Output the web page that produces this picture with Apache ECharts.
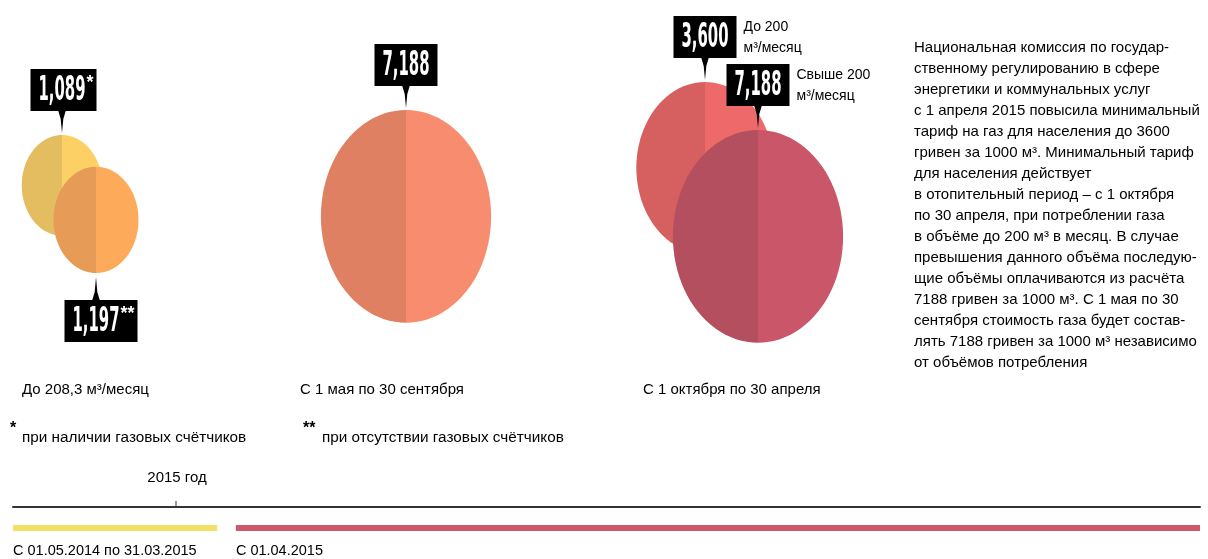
<!DOCTYPE html>
<html>
<head>
<meta charset="utf-8">
<script src="https://cdn.jsdelivr.net/npm/echarts@6/dist/echarts.min.js"></script>
<style>
  html, body { margin: 0; padding: 0; background: #fff; }
  #chart { width: 1208px; height: 559px; }
</style>
</head>
<body>
<div id="chart"></div>
<script>
// ---------------- data ----------------
const groupLabels = ['До 208,3 м³/месяц', 'С 1 мая по 30 сентября', 'С 1 октября по 30 апреля'];
const bubbleGroup = [0, 0, 1, 2, 2];
const bubbleValues = [1089, 1197, 7188, 3600, 7188];
const bubbleMarks = ['*', '**', '', '', ''];
const bubbleNotes = ['', '', '', 'До 200\nм³/месяц', 'Свыше 200\nм³/месяц'];
const footnoteMarks = ['*', '**'];
const footnoteTexts = ['при наличии газовых счётчиков', 'при отсутствии газовых счётчиков'];
const periodLabels = ['С 01.05.2014 по 31.03.2015', 'С 01.04.2015'];
const periodStart = ['2014-05-01', '2015-04-01'];
const periodEnd = ['2015-03-31', null];
const yearMarkDate = '2015-01-01';
const yearMarkLabel = '2015 год';
const descriptionLines = [
  'Национальная комиссия по государ-',
  'ственному регулированию в сфере',
  'энергетики и коммунальных услуг',
  'с 1 апреля 2015 повысила минимальный',
  'тариф на газ для населения до 3600',
  'гривен за 1000 м³. Минимальный тариф',
  'для населения действует',
  'в отопительный период – с 1 октября',
  'по 30 апреля, при потреблении газа',
  'в объёме до 200 м³ в месяц. В случае',
  'превышения данного объёма последую-',
  'щие объёмы оплачиваются из расчёта',
  '7188 гривен за 1000 м³. С 1 мая по 30',
  'сентября стоимость газа будет состав-',
  'лять 7188 гривен за 1000 м³ независимо',
  'от объёмов потребления'
];

// ---------------- layout & style ----------------
const FONT = '"Liberation Sans", "DejaVu Sans", sans-serif';
const NUM_FAMILY = '"Liberation Sans Narrow", "DejaVu Sans Condensed", "Liberation Sans", sans-serif';
const NUM_SIZE = 33;
const TEXT_COLOR = '#000';
const bubbleLayout = [
  { dx: -18, top: 135 },
  { dx: 16, bottom: 273 },
  { dx: 0, top: 110 },
  { dx: -27, top: 82 },
  { dx: 26, top: 130 }
];
const bubbleColors = [
  ['#e3bd5f', '#fcd064'],
  ['#e69b56', '#fdaa5b'],
  ['#df8062', '#f78c6e'],
  ['#d65f5f', '#ee6a6a'],
  ['#b34f5e', '#c95669']
];
const groupLabelDx = [-58, -106, -89];
const periodColors = ['#f4e066', '#c9596b'];

// size scale: logarithmic radius (vertical semi-axis in px)
function radiusY(v) { return 47.8 + 29.7 * Math.log(v / 1000); }

const mctx = document.createElement('canvas').getContext('2d');
function textW(t, font) { mctx.font = font; return mctx.measureText(t).width; }
const numFont = 'bold ' + NUM_SIZE + 'px ' + NUM_FAMILY;
const numScale = 47 / textW('0,000', numFont);
const supFont = 'bold 18px ' + FONT;

function halfEllipse(cx, cy, rx, ry, side) {
  const pts = [];
  const n = 48;
  for (let k = 0; k <= n; k++) {
    const a = -Math.PI / 2 + Math.PI * k / n;
    pts.push([cx + side * rx * Math.cos(a), cy + ry * Math.sin(a)]);
  }
  return pts;
}

function renderBubble(params, api) {
  const i = api.value(2);
  const gi = api.value(0);
  const v = api.value(1);
  const L = bubbleLayout[i];
  const cx = api.coord([gi, 0])[0] + L.dx;
  const ry = radiusY(v);
  const rx = ry * 0.8;
  const labelAbove = L.top != null;
  const cy = labelAbove ? L.top + ry : L.bottom - ry;
  const children = [
    { type: 'polygon', shape: { points: halfEllipse(cx, cy, rx, ry, -1) }, style: { fill: bubbleColors[i][0] } },
    { type: 'polygon', shape: { points: halfEllipse(cx, cy, rx, ry, 1) }, style: { fill: bubbleColors[i][1] } }
  ];
  const numText = v.toLocaleString('en-US');
  const numW = textW(numText, numFont) * numScale;
  const mark = bubbleMarks[i];
  const supW = mark ? textW(mark, supFont) : 0;
  const boxH = 42;
  let tipY, boxTop, ptr;
  if (labelAbove) {
    tipY = L.top - 2;
    const boxBottom = tipY - 22;
    boxTop = boxBottom - boxH;
    ptr = [[cx - 4, boxBottom - 1], [cx + 4, boxBottom - 1], [cx + 1.3, boxBottom + 8], [cx, tipY], [cx - 1.3, boxBottom + 8]];
  } else {
    tipY = cy + ry + 4;
    boxTop = tipY + 23;
    ptr = [[cx - 4, boxTop + 1], [cx + 4, boxTop + 1], [cx + 1.3, boxTop - 8], [cx, tipY], [cx - 1.3, boxTop - 8]];
  }
  const boxLeft = cx - numW / 2 - 8;
  const boxRight = cx + numW / 2 + (mark ? supW + 4 : 8);
  children.push({ type: 'rect', shape: { x: boxLeft, y: boxTop, width: boxRight - boxLeft, height: boxH }, style: { fill: '#000' } });
  children.push({ type: 'polygon', shape: { points: ptr }, style: { fill: '#000' } });
  children.push({
    type: 'text', x: cx, y: boxTop + boxH / 2 + 1, scaleX: numScale,
    style: { text: numText, fill: '#fff', fontFamily: NUM_FAMILY, fontWeight: 'bold', fontSize: NUM_SIZE, align: 'center', verticalAlign: 'middle' }
  });
  if (mark) {
    children.push({
      type: 'text', x: cx + numW / 2 + 1, y: boxTop + 5,
      style: { text: mark, fill: '#fff', font: supFont, align: 'left', verticalAlign: 'top' }
    });
  }
  if (bubbleNotes[i]) {
    children.push({
      type: 'text', x: boxRight + 7, y: boxTop + 1,
      style: { text: bubbleNotes[i], fill: TEXT_COLOR, fontFamily: FONT, fontSize: 14, lineHeight: 21, align: 'left', verticalAlign: 'top' }
    });
  }
  return { type: 'group', children: children };
}

function renderGroupLabel(params, api) {
  const gi = api.value(0);
  const x = api.coord([gi, 0])[0] + groupLabelDx[gi];
  return { type: 'text', x: x, y: 390, style: { text: groupLabels[gi], fill: TEXT_COLOR, fontFamily: FONT, fontSize: 15, align: 'left', verticalAlign: 'middle' } };
}

const GAP = 18;
function renderPeriod(params, api) {
  const i = api.value(2);
  const cs = params.coordSys;
  const axisY = api.coord([api.value(0), 0])[1];
  const x0 = api.coord([+new Date(periodStart[i]), 0])[0];
  const x1 = periodEnd[i] ? api.coord([+new Date(periodEnd[i]), 0])[0] - GAP : cs.x + cs.width;
  return {
    type: 'group', children: [
      { type: 'rect', shape: { x: x0, y: axisY + 18, width: x1 - x0, height: 6 }, style: { fill: periodColors[i] } },
      { type: 'text', x: x0, y: axisY + 44, style: { text: periodLabels[i], fill: TEXT_COLOR, fontFamily: FONT, fontSize: 14.5, align: 'left', verticalAlign: 'middle' } }
    ]
  };
}

function renderYearMark(params, api) {
  const p = api.coord([api.value(0), 0]);
  return {
    type: 'group', children: [
      { type: 'line', shape: { x1: p[0], y1: p[1] - 6, x2: p[0], y2: p[1] }, style: { stroke: '#333', lineWidth: 1 } },
      { type: 'text', x: p[0] + 1, y: p[1] - 29, style: { text: yearMarkLabel, fill: TEXT_COLOR, fontFamily: FONT, fontSize: 15, align: 'center', verticalAlign: 'middle' } }
    ]
  };
}

const chart = echarts.init(document.getElementById('chart'), null, { renderer: 'canvas' });
const graphics = [
  { type: 'text', left: 914, top: 37, style: { text: descriptionLines.join('\n'), fill: TEXT_COLOR, fontFamily: FONT, fontSize: 15, lineHeight: 21 } }
];
const footX = [10, 303];
footnoteMarks.forEach((m, k) => {
  graphics.push({ type: 'text', left: footX[k], top: 421, style: { text: m, fill: TEXT_COLOR, font: 'bold 16px ' + FONT } });
  graphics.push({ type: 'text', left: footX[k] + 12 + (m.length - 1) * 7, top: 430, style: { text: footnoteTexts[k], fill: TEXT_COLOR, fontFamily: FONT, fontSize: 15.3 } });
});

chart.setOption({
  animation: false,
  grid: [
    { left: 80, right: 476, top: 0, bottom: 0 },
    { left: 13, right: 8, top: 480, bottom: 52 }
  ],
  xAxis: [
    { gridIndex: 0, type: 'category', data: groupLabels, boundaryGap: false, show: false },
    {
      gridIndex: 1, type: 'time', min: '2014-05-01', max: '2019-03-20',
      axisLine: { show: true, onZero: false, lineStyle: { color: '#333', width: 2 } },
      axisTick: { show: false }, axisLabel: { show: false }, splitLine: { show: false }
    }
  ],
  yAxis: [
    { gridIndex: 0, type: 'value', min: 0, max: 1, show: false },
    { gridIndex: 1, type: 'value', min: 0, max: 1, show: false }
  ],
  graphic: graphics,
  series: [
    {
      type: 'custom', xAxisIndex: 0, yAxisIndex: 0,
      data: bubbleValues.map((v, i) => [bubbleGroup[i], v, i]),
      encode: { x: 0 },
      renderItem: renderBubble
    },
    {
      type: 'custom', xAxisIndex: 0, yAxisIndex: 0,
      data: groupLabels.map((g, i) => [i, 0]),
      encode: { x: 0 },
      renderItem: renderGroupLabel
    },
    {
      type: 'custom', xAxisIndex: 1, yAxisIndex: 1,
      data: periodLabels.map((p, i) => [periodStart[i], 0, i]),
      encode: { x: 0, y: 1 },
      renderItem: renderPeriod
    },
    {
      type: 'custom', xAxisIndex: 1, yAxisIndex: 1,
      data: [[yearMarkDate, 0]],
      encode: { x: 0, y: 1 },
      renderItem: renderYearMark
    }
  ]
});
</script>
</body>
</html>
